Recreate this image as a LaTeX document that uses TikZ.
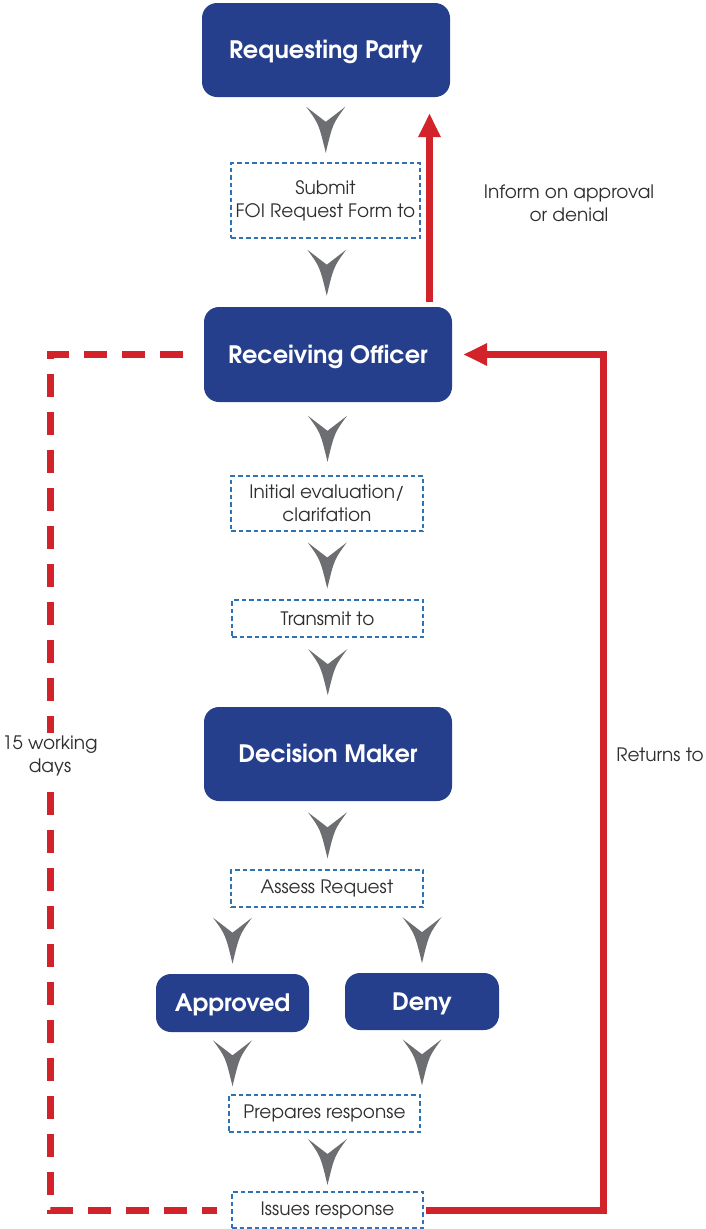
\documentclass[tikz,border=0pt]{standalone}
\usepackage{fontspec}
\setmainfont{texgyreadventor}[Extension=.otf, UprightFont=*-regular, BoldFont=*-bold]
\usetikzlibrary{arrows.meta,calc}
\definecolor{navy}{HTML}{263F8C}
\definecolor{chevgray}{HTML}{6D6E71}
\definecolor{foired}{HTML}{D2232A}
\definecolor{dashblue}{HTML}{2E74B5}
\definecolor{txtgray}{HTML}{2F2F2F}
\tikzset{
  bluebox/.style={fill=navy, rounded corners=15pt, text=white,
    font=\bfseries\fontsize{24}{28}\selectfont, inner sep=0pt,
    text height=17pt, text depth=0pt},
  stepbox/.style={draw=dashblue, dash pattern=on 4.5pt off 3pt, line width=1.1pt,
    text=txtgray, font=\fontsize{18.5}{23}\selectfont, align=center, inner sep=0pt,
    minimum width=191pt},
  plain/.style={text=txtgray, font=\fontsize{18.5}{23}\selectfont, align=center, inner sep=1pt},
  redline/.style={draw=foired, line width=7pt},
  redarrow/.style={redline, -{Triangle[length=24pt,width=21pt]}},
  reddash/.style={redline, dash pattern=on 23pt off 15pt},
  chev/.pic={\fill[chevgray] (-19.5,-23) -- (0,-8) -- (19.5,-23)
     .. controls (7,-6) .. (0,23) .. controls (-7,-6) .. (-19.5,-23) -- cycle;}
}
\begin{document}
\begin{tikzpicture}[x=1pt,y=-1pt]
\useasboundingbox (0,0) rectangle (705,1229);
% main boxes
\node[bluebox, minimum width=248pt, minimum height=94pt] (rp) at (326,50) {Requesting Party};
\node[bluebox, minimum width=248pt, minimum height=95pt] (ro) at (328,354.5) {Receiving Officer};
\node[bluebox, minimum width=248pt, minimum height=94pt] (dm) at (328,754) {Decision Maker};
\node[bluebox, minimum width=153pt, minimum height=58pt] (app) at (232.5,1003) {Approved};
\node[bluebox, minimum width=154pt, minimum height=57pt] (deny) at (422,1001.5) {Deny};
% step boxes
\node[stepbox, minimum width=189pt, minimum height=75pt] (sub) at (325.5,200.5) {Submit\\FOI Request Form to};
\node[stepbox, minimum width=192pt, minimum height=55pt] (ini) at (327,503.5) {Initial evaluation/\\clarifation};
\node[stepbox, minimum height=37pt] (tra) at (327.5,618.5) {Transmit to};
\node[stepbox, minimum width=192pt, minimum height=37pt] (ass) at (327,888.5) {Assess Request};
\node[stepbox, minimum height=37pt] (prep) at (324.5,1113.5) {Prepares response};
\node[stepbox, minimum height=36pt] (iss) at (327.5,1210) {Issues response};
% chevrons
\pic at ($(rp.south)!0.5!(sub.north)$) {chev};
\pic at ($(sub.south)!0.5!(ro.north)$) {chev};
\pic at ($(ro.south)!0.5!(ini.north)$) {chev};
\pic at ($(ini.south)!0.5!(tra.north)$) {chev};
\pic at ($(tra.south)!0.5!(dm.north)$) {chev};
\pic at ($(dm.south)!0.5!(ass.north)$) {chev};
\coordinate (m7a) at ($(ass.south)!0.5!(app.north)$);
\coordinate (m7b) at ($(ass.south)!0.5!(deny.north)$);
\pic at (m7a -| app.north) {chev};
\pic at (m7b -| deny.north) {chev};
\coordinate (m8a) at ($(app.south)!0.5!(prep.north)$);
\coordinate (m8b) at ($(deny.south)!0.5!(prep.north)$);
\pic at (m8a -| app.south) {chev};
\pic at (m8b -| deny.south) {chev};
\coordinate (m9) at ($(prep.south)!0.5!(iss.north)$);
\pic at (m9 -| iss.north) {chev};
% red connectors
\coordinate (ux) at (429.5,0);
\draw[redarrow, shorten <=5pt, shorten >=16pt] (ro.north -| ux) -- (rp.south -| ux);
\coordinate (rx) at (603,0);
\draw[redarrow, line join=miter, shorten <=2pt, shorten >=11pt]
  (iss.east) -- (iss.east -| rx) -- (ro.east -| rx) -- (ro.east);
\coordinate (lx) at (50,0);
\draw[reddash, line join=miter, shorten <=21pt, shorten >=14pt]
  (ro.west) -- (ro.west -| lx) -- (iss.west -| lx) -- (iss.west);
% labels
\node[plain] (inf) at (569,203) {Inform on approval\\or denial};
\node[plain] (ret) at (660,755) {Returns to};
\node[plain, fill=white, inner sep=3pt] (days) at (50,756) {15 working\\days};
\end{tikzpicture}
\end{document}
